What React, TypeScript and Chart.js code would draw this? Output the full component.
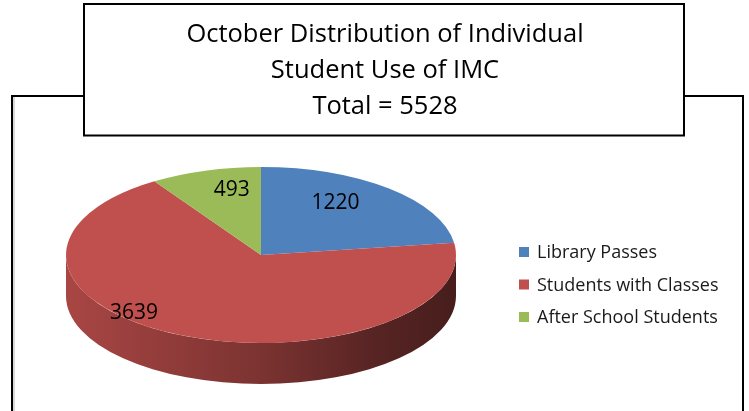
import React, { useEffect, useRef } from 'react';
import { Chart, registerables } from 'chart.js';

Chart.register(...registerables);

// ---------- data ----------
const categories = ['Library Passes', 'Students with Classes', 'After School Students'];
const values = [1220, 3639, 493];
const sliceColors = ['#4F81BD', '#C0504D', '#9BBB59'];
const titleLines = ['October Distribution of Individual', 'Student Use of IMC', 'Total = 5528'];

// ---------- style / layout ----------
const W = 749;
const H = 411;
const FONT = '"Open Sans", "Noto Sans", sans-serif';
const TILT = 88 / 195; // vertical squash of the pie's top face
const PIE_SHIFT_Y = 60; // move of the tilted pie below its layout centre
const DEPTH = 41; // thickness of the pie's side
const LABEL_PLACEMENT = [
  { shiftDeg: -8, frac: 0.7 },
  { shiftDeg: 20, frac: 0.93 },
  { shiftDeg: 5, frac: 0.75 },
];

function rgbOf(hex: string) {
  const n = parseInt(hex.slice(1), 16);
  return [(n >> 16) & 255, (n >> 8) & 255, n & 255];
}
function shade(hex: string, f: number) {
  const [r, g, b] = rgbOf(hex);
  return `rgb(${Math.round(r * f)},${Math.round(g * f)},${Math.round(b * f)})`;
}

const framePlugin = {
  id: 'frameAndTitle',
  beforeDraw(chart: any) {
    const ctx = chart.ctx;
    ctx.save();
    ctx.fillStyle = '#ffffff';
    ctx.fillRect(0, 0, W, H);
    // outer chart frame
    ctx.fillStyle = '#d9d9d9';
    ctx.fillRect(13, 97, 2, H);
    ctx.strokeStyle = '#000000';
    ctx.lineWidth = 2;
    ctx.strokeRect(12, 96, 731, H);
    // title box
    ctx.fillStyle = '#ffffff';
    ctx.fillRect(84, 4, 600, 131.5);
    ctx.strokeRect(84, 4, 600, 131.5);
    ctx.fillStyle = '#000000';
    ctx.font = `25.5px ${FONT}`;
    ctx.textAlign = 'center';
    ctx.textBaseline = 'alphabetic';
    titleLines.forEach((t, i) => ctx.fillText(t, 385, 42 + i * 36));
    ctx.restore();
  },
  afterDraw(chart: any) {
    const ctx = chart.ctx;
    ctx.save();
    ctx.font = `18px ${FONT}`;
    ctx.textBaseline = 'middle';
    ctx.textAlign = 'left';
    const labels = chart.data.labels as string[];
    const bg = chart.data.datasets[0].backgroundColor as string[];
    labels.forEach((lab, i) => {
      const y = 252 + i * 32.5;
      ctx.fillStyle = bg[i];
      ctx.fillRect(519, y - 5, 10, 10);
      ctx.fillStyle = '#1a1a1a';
      ctx.fillText(lab, 537, y + 1);
    });
    ctx.restore();
  },
};

const pie3dPlugin = {
  id: 'pie3d',
  beforeDatasetsDraw(chart: any) {
    const ctx = chart.ctx;
    const meta = chart.getDatasetMeta(0);
    const bg = chart.data.datasets[0].backgroundColor as string[];
    meta.data.forEach((el: any, i: number) => {
      const cx = el.x;
      const cy = el.y + PIE_SHIFT_Y;
      const rx = el.outerRadius;
      const ry = el.outerRadius * TILT;
      const a = Math.max(el.startAngle, 0);
      const b = Math.min(el.endAngle, Math.PI);
      if (b <= a) return;
      const grad = ctx.createLinearGradient(cx - rx, 0, cx + rx, 0);
      grad.addColorStop(0, shade(bg[i], 0.88));
      grad.addColorStop(0.5, shade(bg[i], 0.64));
      grad.addColorStop(0.8, shade(bg[i], 0.45));
      grad.addColorStop(1, shade(bg[i], 0.37));
      ctx.save();
      ctx.beginPath();
      ctx.ellipse(cx, cy, rx, ry, 0, a, b, false);
      ctx.lineTo(cx + rx * Math.cos(b), cy + DEPTH + ry * Math.sin(b));
      ctx.ellipse(cx, cy + DEPTH, rx, ry, 0, b, a, true);
      ctx.closePath();
      ctx.fillStyle = grad;
      ctx.fill();
      ctx.restore();
    });
    const el0 = meta.data[0];
    ctx.save();
    ctx.translate(el0.x, el0.y + PIE_SHIFT_Y);
    ctx.scale(1, TILT);
    ctx.translate(-el0.x, -el0.y);
  },
  afterDatasetsDraw(chart: any) {
    const ctx = chart.ctx;
    ctx.restore();
    const meta = chart.getDatasetMeta(0);
    const data = chart.data.datasets[0].data as number[];
    ctx.save();
    ctx.font = `21px ${FONT}`;
    ctx.fillStyle = '#000000';
    ctx.textAlign = 'center';
    ctx.textBaseline = 'middle';
    meta.data.forEach((el: any, i: number) => {
      const p = LABEL_PLACEMENT[i];
      const ang = (el.startAngle + el.endAngle) / 2 + (p.shiftDeg * Math.PI) / 180;
      const cx = el.x;
      const cy = el.y + PIE_SHIFT_Y;
      const x = cx + el.outerRadius * p.frac * Math.cos(ang);
      const y = cy + el.outerRadius * TILT * p.frac * Math.sin(ang);
      ctx.fillText(String(data[i]), x, y);
    });
    ctx.restore();
  },
};

export default function App() {
  const ref = useRef<HTMLCanvasElement | null>(null);
  useEffect(() => {
    if (!ref.current) return;
    const chart = new Chart(ref.current, {
      type: 'pie',
      data: {
        labels: categories,
        datasets: [
          {
            data: values,
            backgroundColor: sliceColors,
            borderWidth: 0,
            hoverOffset: 0,
            clip: false as any,
          },
        ],
      },
      options: {
        animation: false,
        responsive: false,
        maintainAspectRatio: false,
        devicePixelRatio: 1,
        events: [],
        layout: { padding: { left: 66, right: 293, top: 0, bottom: 21 } },
        plugins: {
          legend: { display: false },
          title: { display: false },
          tooltip: { enabled: false },
        },
      },
      plugins: [framePlugin, pie3dPlugin],
    });
    return () => chart.destroy();
  }, []);
  return (
    <div style={{ position: 'fixed', left: 0, top: 0, width: W, height: H }}>
      <canvas ref={ref} width={W} height={H} style={{ width: W, height: H, display: 'block' }} />
    </div>
  );
}
